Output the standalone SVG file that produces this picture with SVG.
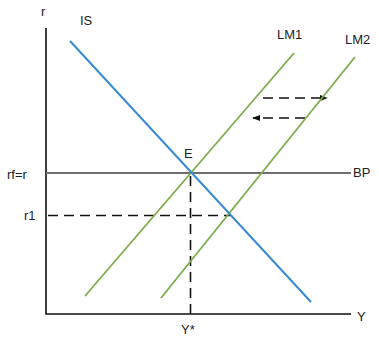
<svg xmlns="http://www.w3.org/2000/svg" width="379" height="337" viewBox="0 0 379 337">
<defs>
<style>
text{font-family:"Liberation Sans","DejaVu Sans",sans-serif;font-size:13px;fill:#222}
.ax{stroke:#111;stroke-width:1.6;fill:none}
.dash{stroke:#111;stroke-width:1.6;stroke-dasharray:10 6;fill:none}
.lm{stroke:#7fab4d;stroke-width:1.8;fill:none}
.is{stroke:#3a8ad3;stroke-width:2;fill:none}
.bp{stroke:#6e6e6e;stroke-width:2.2;fill:none}
</style>
<marker id="ah" viewBox="0 0 10 10" refX="9" refY="5" markerWidth="5" markerHeight="5" orient="auto-start-reverse"><path d="M0,1 L10,5 L0,9 z" fill="#111"/></marker>
</defs>
<rect width="379" height="337" fill="#fff"/>
<g id="axes">
<path class="ax" d="M46,28 V314 H351"/>
<text x="41" y="16">r</text>
<text x="357" y="321">Y</text>
</g>
<g id="connectors">
<path class="dash" d="M48,215.5 H231"/>
<path class="dash" d="M190.5,176 V314"/>
<path class="dash" d="M263,98 H327" marker-end="url(#ah)"/>
<path class="dash" d="M305,118 H253" marker-end="url(#ah)"/>
</g>
<g id="BP">
<path class="bp" d="M46,173 H351"/>
<text x="353" y="177">BP</text>
<text x="7" y="179">rf=r</text>
</g>
<g id="LM1">
<path class="lm" d="M85,296 L294,53"/>
<text x="277" y="39">LM1</text>
</g>
<g id="LM2">
<path class="lm" d="M161,298 L355,57"/>
<text x="345" y="44">LM2</text>
</g>
<g id="IS">
<path class="is" d="M70,41 L311,302"/>
<text x="80" y="25">IS</text>
</g>
<g id="E">
<text x="184" y="158">E</text>
</g>
<g id="labels">
<text x="24" y="220">r1</text>
<text x="181" y="334">Y*</text>
</g>
</svg>
